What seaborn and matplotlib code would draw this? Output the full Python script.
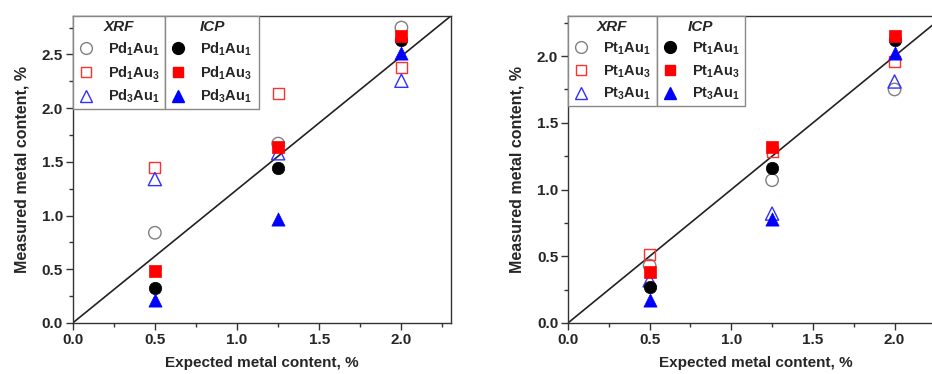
import matplotlib
matplotlib.use("Agg")
import matplotlib.pyplot as plt
import seaborn as sns
import numpy as np
from matplotlib.lines import Line2D
from matplotlib.ticker import MultipleLocator, FormatStrFormatter

sns.set_theme(style="white")
plt.rcParams['font.family'] = ['Liberation Sans', 'DejaVu Sans']
plt.rcParams['mathtext.fontset'] = 'custom'
plt.rcParams['mathtext.rm'] = 'Liberation Sans:bold'
plt.rcParams['mathtext.bf'] = 'Liberation Sans:bold'
plt.rcParams['mathtext.it'] = 'Liberation Sans:bold:italic'
plt.rcParams['mathtext.default'] = 'bf'

# ---- data ----
expected = [0.5, 1.25, 2.0]

pd_labels = ["Pd$_1$Au$_1$", "Pd$_1$Au$_3$", "Pd$_3$Au$_1$"]
pd_xrf_1_1 = [0.84, 1.67, 2.75]
pd_xrf_1_3 = [1.445, 2.14, 2.38]
pd_xrf_3_1 = [1.34, 1.58, 2.255]
pd_icp_1_1 = [0.33, 1.44, 2.63]
pd_icp_1_3 = [0.48, 1.64, 2.67]
pd_icp_3_1 = [0.21, 0.965, 2.51]

pt_labels = ["Pt$_1$Au$_1$", "Pt$_1$Au$_3$", "Pt$_3$Au$_1$"]
pt_xrf_1_1 = [0.43, 1.07, 1.75]
pt_xrf_1_3 = [0.51, 1.285, 1.96]
pt_xrf_3_1 = [0.32, 0.82, 1.81]
pt_icp_1_1 = [0.27, 1.165, 2.12]
pt_icp_1_3 = [0.385, 1.32, 2.15]
pt_icp_3_1 = [0.17, 0.78, 2.02]

x_ticks = [0.0, 0.5, 1.0, 1.5, 2.0]

colors = ["#808080", "#ff3030", "#3030ff"]
icp_colors = ["black", "#ff0000", "#0000ff"]
markers = ["o", "s", "^"]
sizes = [80, 64, 90]

fig = plt.figure(figsize=(9.32, 3.74), dpi=100)
ax1 = fig.add_axes([0.078, 0.1364, 0.4056, 0.8206])
ax2 = fig.add_axes([0.6094, 0.1364, 0.403, 0.8206])


def panel(ax, labels, xrf, icp, ylim, ytick_step, leg_w1, leg_w2):
    ax.plot([0, 1], [0, 1], transform=ax.transAxes, color="#222222", lw=1.2, zorder=1)
    for i in range(3):
        sns.scatterplot(x=expected, y=xrf[i], marker=markers[i], s=sizes[i],
                        facecolors="none", edgecolors=colors[i], linewidths=1.0,
                        ax=ax, zorder=3, legend=False)
    for i in range(3):
        sns.scatterplot(x=expected, y=icp[i], marker=markers[i], s=sizes[i],
                        color=icp_colors[i], edgecolors=icp_colors[i], linewidths=0.5,
                        ax=ax, zorder=4, legend=False)
    ax.set_xlim(0, 2.3)
    ax.set_ylim(*ylim)
    ax.set_xticks(x_ticks)
    ax.xaxis.set_minor_locator(MultipleLocator(0.25))
    ax.yaxis.set_major_locator(MultipleLocator(ytick_step))
    ax.yaxis.set_minor_locator(MultipleLocator(ytick_step / 2))
    ax.xaxis.set_major_formatter(FormatStrFormatter('%.1f'))
    ax.yaxis.set_major_formatter(FormatStrFormatter('%.1f'))
    ax.tick_params(which="major", direction="out", length=5, width=1, color="#333333",
                   labelsize=11, pad=2, bottom=True, left=True)
    ax.tick_params(which="minor", direction="out", length=3, width=1, color="#333333",
                   bottom=True, left=True)
    for lab in ax.get_xticklabels() + ax.get_yticklabels():
        lab.set_fontweight("bold")
    for sp in ax.spines.values():
        sp.set_color("#333333")
        sp.set_linewidth(1.0)
    ax.set_xlabel("Expected metal content, %", fontsize=11, fontweight="bold", labelpad=7)
    ax.set_ylabel("Measured metal content, %", fontsize=11.5, fontweight="bold", labelpad=9)
    ax.grid(False)

    h1 = [Line2D([], [], ls="none", marker=markers[i], markersize=np.sqrt(sizes[i]) * 0.95,
                 markerfacecolor="none", markeredgecolor=colors[i], markeredgewidth=1.0)
          for i in range(3)]
    h2 = [Line2D([], [], ls="none", marker=markers[i], markersize=np.sqrt(sizes[i]) * 0.95,
                 markerfacecolor=icp_colors[i], markeredgecolor=icp_colors[i])
          for i in range(3)]
    common = dict(loc="upper left", mode="expand", borderaxespad=0, fancybox=False,
                  framealpha=1, edgecolor="#888888",
                  prop={"weight": "bold", "size": 10.5},
                  title_fontproperties={"weight": "bold", "style": "italic", "size": 11},
                  handlelength=1.2, handletextpad=0.9, labelspacing=0.42,
                  borderpad=0.3)
    leg1 = ax.legend(h1, labels, title="XRF", bbox_to_anchor=(0, 0.7, leg_w1, 0.3), **common)
    leg1.get_frame().set_linewidth(1.0)
    ax.add_artist(leg1)
    leg2 = ax.legend(h2, labels, title="ICP",
                     bbox_to_anchor=(leg_w1, 0.7, leg_w2 - leg_w1, 0.3), **common)
    leg2.get_frame().set_linewidth(1.0)


panel(ax1, pd_labels, [pd_xrf_1_1, pd_xrf_1_3, pd_xrf_3_1],
      [pd_icp_1_1, pd_icp_1_3, pd_icp_3_1], (0, 2.857), 0.5, 0.245, 0.493)
panel(ax2, pt_labels, [pt_xrf_1_1, pt_xrf_1_3, pt_xrf_3_1],
      [pt_icp_1_1, pt_icp_1_3, pt_icp_3_1], (0, 2.3), 0.5, 0.236, 0.471)

fig.savefig("out.png", dpi=100)
